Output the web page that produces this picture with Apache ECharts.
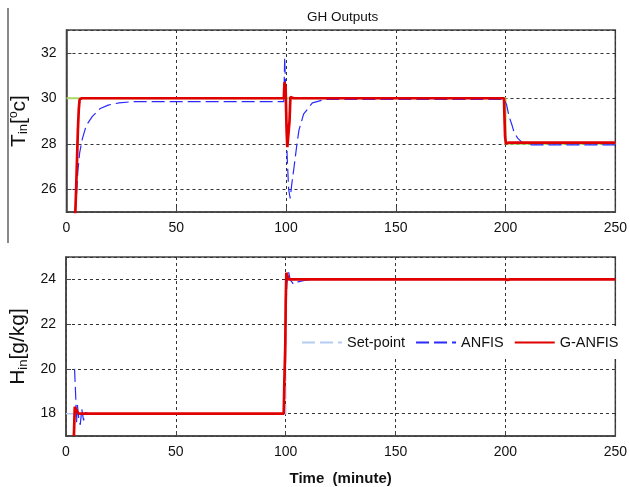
<!DOCTYPE html>
<html>
<head>
<meta charset="utf-8">
<script src="https://cdn.jsdelivr.net/npm/echarts@6/dist/echarts.min.js"></script>
<style>
  html, body { margin: 0; padding: 0; background: #fff; }
  #chart { width: 630px; height: 487px; }
</style>
</head>
<body>
<div id="chart"></div>
<script>
// x axis ticks (minute)
const xTicks = [0, 50, 100, 150, 200, 250]

// top panel: indoor temperature [x, y]
const tempSetPoint = [[0, 30], [200, 30], [200, 28], [250, 28]]
const tempAnfis = [
  [4, 25], [4.6, 25.8], [5.2, 26.8], [6, 27.6], [7.2, 28.2], [9, 28.8], [11.8, 29.2],
  [15.4, 29.55], [19, 29.7], [24, 29.8], [30, 29.85], [99, 29.85], [99.4, 31.8],
  [99.8, 30.5], [100.5, 27.5], [101.2, 26], [101.9, 25.6], [102.6, 26.2], [103.7, 27.0],
  [105, 28], [105.9, 28.6], [108, 29.3], [112, 29.8], [118, 29.95], [199.4, 29.95],
  [200.5, 29.7], [201.6, 29.2], [203, 28.8], [203.9, 28.5], [205.5, 28.25],
  [207.6, 28.05], [212, 27.95], [250, 27.95]
]
const tempGAnfis = [
  [4, 24.9], [4.4, 26], [4.8, 27.3], [5.2, 28.6], [5.6, 29.5], [6, 29.95], [7, 30],
  [99, 30], [99.3, 30.7], [99.8, 30.5], [100.3, 28.5], [100.6, 27.85], [101.2, 27.9],
  [101.6, 29], [102, 30.05], [102.5, 30.1], [103.5, 30], [199.3, 30], [199.5, 29.2],
  [199.8, 28.3], [200.2, 28], [201, 28], [201.5, 28.05], [250, 28.05]
]

// bottom panel: indoor humidity [x, y]
const humSetPoint = [[0, 18], [100, 18], [100, 24], [250, 24]]
const humAnfis = [
  [3.9, 20], [4.2, 19.3], [4.5, 18.6], [4.8, 17.6], [5.2, 18.4], [5.8, 17.8],
  [6.5, 17.5], [7.2, 18.2], [8, 17.7], [9, 18.05], [10, 18], [99, 18], [99.5, 19.5],
  [100, 22.3], [100.5, 23.8], [101.3, 24.35], [102, 24], [103.5, 23.78], [106, 23.9],
  [109, 23.96], [112, 24], [250, 24]
]
const humGAnfis = [
  [3.6, 17], [3.8, 17.6], [4, 18.3], [4.5, 18.3], [5, 18.1], [5.7, 18], [99.1, 18],
  [99.4, 19.5], [99.8, 21], [100, 23], [100.3, 24.3], [101, 24.3], [101.3, 24],
  [102, 24.05], [103, 24], [200, 24], [201, 23.98], [202, 24], [250, 24]
]

const font = 'Liberation Sans, Arial, sans-serif'
const dark = '#111'

function xAxis(gridIndex, name) {
  return {
    type: 'value',
    gridIndex: gridIndex,
    min: xTicks[0],
    max: xTicks[xTicks.length - 1],
    interval: 50,
    name: name,
    nameLocation: 'middle',
    nameGap: 35,
    nameTextStyle: { fontFamily: font, fontSize: 15, fontWeight: 'bold', color: dark },
    axisLine: { lineStyle: { color: '#444', width: 1.5 } },
    axisTick: { inside: true, length: 5, lineStyle: { color: '#444' } },
    axisLabel: { margin: 9, fontFamily: font, fontSize: 14, color: dark },
    splitLine: { show: true, lineStyle: { color: '#333', type: [3, 3], width: 1 } }
  }
}

function yAxis(gridIndex, name, min, max) {
  return {
    type: 'value',
    gridIndex: gridIndex,
    min: min,
    max: max,
    splitNumber: 4,
    name: name,
    nameLocation: 'middle',
    nameGap: 36,
    nameTextStyle: {
      color: dark,
      fontFamily: font,
      rich: {
        b: { fontSize: 21, fontFamily: font, color: dark },
        s: { fontSize: 13, fontFamily: font, color: dark, padding: [9, 0, 0, 0] },
        u: { fontSize: 12, fontFamily: font, color: dark, padding: [0, 0, 10, 0] }
      }
    },
    axisLine: { lineStyle: { color: '#444', width: 1.5 } },
    axisTick: { inside: true, length: 5, lineStyle: { color: '#444' } },
    axisLabel: { margin: 10, fontFamily: font, fontSize: 14, color: dark, showMinLabel: false, showMaxLabel: false },
    splitLine: { show: true, lineStyle: { color: '#333', type: [3, 3], width: 1 } }
  }
}

const blueDash = { color: '#2a2aff', width: 1.2, type: [13, 5] }
const redSolid = { color: '#e00000', width: 2.7 }

const chart = echarts.init(document.getElementById('chart'), null, { renderer: 'canvas' })
chart.setOption({
  backgroundColor: '#fff',
  animation: false,
  title: {
    text: 'GH Outputs',
    left: 302,
    top: 5,
    textStyle: { fontFamily: font, fontSize: 13.5, fontWeight: 'normal', color: dark }
  },
  legend: {
    left: 299,
    top: 326,
    padding: [9, 4, 9, 2],
    itemWidth: 40,
    itemHeight: 14,
    itemGap: 10,
    backgroundColor: '#fff',
    itemStyle: { opacity: 0 },
    textStyle: { fontFamily: font, fontSize: 14.5, color: dark },
    data: ['Set-point', 'ANFIS', 'G-ANFIS']
  },
  grid: [
    { left: 64, top: 30, width: 553, height: 182, show: true, borderColor: '#444', borderWidth: 1.5 },
    { left: 64, top: 257, width: 553, height: 181, show: true, borderColor: '#444', borderWidth: 1.5 }
  ],
  xAxis: [xAxis(0, ''), xAxis(1, 'Time  (minute)')],
  yAxis: [
    yAxis(0, '{b|T}{s|in}{b|[}{u|o}{b|c]}', 25, 33),
    yAxis(1, '{b|H}{s|in}{b|[g/kg]}', 17, 25)
  ],
  graphic: [{
    type: 'line',
    shape: { x1: 8, y1: 8, x2: 8, y2: 243 },
    style: { stroke: '#888', lineWidth: 2 }
  }],
  series: [
    { name: 'Set-point', type: 'line', xAxisIndex: 1, yAxisIndex: 1, data: humSetPoint, symbol: 'none',
      lineStyle: { color: '#b4ccf2', width: 1.5, type: [13, 5] }, itemStyle: { color: '#b4ccf2' } },
    { name: 'ANFIS', type: 'line', xAxisIndex: 1, yAxisIndex: 1, data: humAnfis, symbol: 'none',
      lineStyle: blueDash, itemStyle: { color: blueDash.color } },
    { name: 'G-ANFIS', type: 'line', xAxisIndex: 1, yAxisIndex: 1, data: humGAnfis, symbol: 'none',
      lineStyle: redSolid, itemStyle: { color: redSolid.color } },
    { name: 'Set-point', type: 'line', xAxisIndex: 0, yAxisIndex: 0, data: tempSetPoint, symbol: 'none',
      lineStyle: { color: '#a6d86a', width: 2 }, itemStyle: { color: '#a6d86a' } },
    { name: 'ANFIS', type: 'line', xAxisIndex: 0, yAxisIndex: 0, data: tempAnfis, symbol: 'none',
      lineStyle: blueDash, itemStyle: { color: blueDash.color } },
    { name: 'G-ANFIS', type: 'line', xAxisIndex: 0, yAxisIndex: 0, data: tempGAnfis, symbol: 'none',
      lineStyle: redSolid, itemStyle: { color: redSolid.color } }
  ]
})
</script>
</body>
</html>
